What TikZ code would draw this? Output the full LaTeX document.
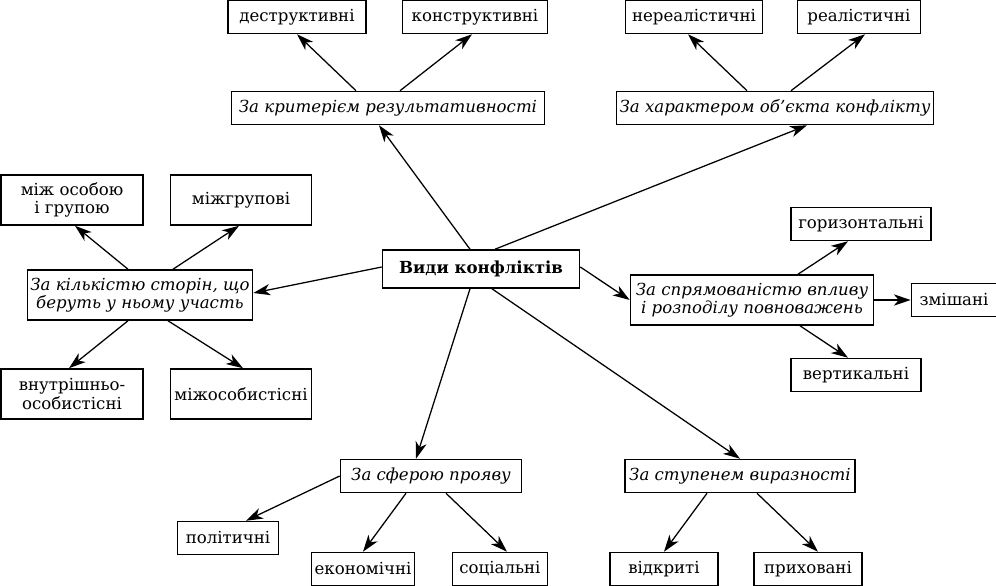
\documentclass[tikz,border=0pt]{standalone}
\usepackage{fontspec}
\setmainfont{DejaVu Serif}
\usetikzlibrary{arrows.meta,calc}
\tikzset{%
  box/.style={draw, line width=1.1pt, inner sep=2pt, minimum height=0.825cm,
    align=center, font=\fontsize{11.8}{13}\selectfont},
  twoline/.style={minimum height=1.25cm},
  criterion/.style={box, font=\fontsize{11.8}{13}\selectfont\itshape},
  link/.style={-{Stealth[length=12pt,width=8pt,inset=3.5pt]}, line width=0.9pt}
}
\begin{document}
\begin{tikzpicture}[x=0.025cm, y=-0.025cm]
      \useasboundingbox (0,0) rectangle (996,586);

      % centre
      \node[box, minimum width=4.925cm, minimum height=0.95cm, font=\fontsize{11.8}{13}\selectfont\bfseries] (main) at (481,269) {Види конфліктів};

      % top left group
      \node[criterion, minimum width=7.825cm] (crit) at (388,108) {За критерієм результативності};
      \node[box, minimum width=3.45cm] (destr) at (297,17) {деструктивні};
      \node[box, minimum width=3.625cm] (constr) at (475,17) {конструктивні};

      % top right group
      \node[criterion, minimum width=7.925cm] (object) at (775,108) {За характером об’єкта конфлікту};
      \node[box, minimum width=3.425cm] (unreal) at (694,17) {нереалістичні};
      \node[box, minimum width=3.075cm] (real) at (859,17) {реалістичні};

      % left group
      \node[criterion, twoline, minimum width=5.625cm] (sides) at (140,295) {За кількістю сторін, що\\беруть у ньому участь};
      \node[box, twoline, minimum width=3.55cm] (persgroup) at (72,200) {між особою\\і групою};
      \node[box, twoline, minimum width=3.525cm] (intergroup) at (241,200) {міжгрупові};
      \node[box, twoline, minimum width=3.55cm] (intra) at (72,394) {внутрішньо-\\особистісні};
      \node[box, twoline, minimum width=3.525cm] (interpers) at (241,394) {міжособистісні};

      % right group
      \node[criterion, twoline, minimum width=6.075cm] (power) at (752,300) {За спрямованістю впливу\\і розподілу повноважень};
      \node[box, minimum width=3.5cm] (horiz) at (861,224) {горизонтальні};
      \node[box, minimum width=2.125cm] (mixed) at (954,300) {змішані};
      \node[box, minimum width=3.25cm] (vert) at (856,375) {вертикальні};

      % bottom left group
      \node[criterion, minimum width=4.525cm] (sphere) at (431,476) {За сферою прояву};
      \node[box, minimum width=2.525cm] (polit) at (228,538) {політичні};
      \node[box, minimum width=2.575cm] (econ) at (363,569) {економічні};
      \node[box, minimum width=2.375cm] (social) at (500,569) {соціальні};

      % bottom right group
      \node[criterion, minimum width=5.75cm] (degree) at (740,476) {За ступенем виразності};
      \node[box, minimum width=2.7cm] (open) at (664,569) {відкриті};
      \node[box, minimum width=2.7cm] (hidden) at (808,569) {приховані};

      % from the centre
      \draw[link] ($(main.north)+(-11,0)$) -- ($(crit.south)+(-9,0)$);
      \draw[link] ($(main.north)+(14,0)$) -- ($(object.south)+(32,0)$);
      \draw[link] ($(main.west)+(0,-2)$) -- ($(sides.east)+(0,-2)$);
      \draw[link] ($(main.east)+(0,-2)$) -- (power.west);
      \draw[link] ($(main.south)+(-11,0)$) -- ($(sphere.north)+(-15,0)$);
      \draw[link] ($(main.south)+(11,0)$) -- (degree.north);

      % branches
      \draw[link] ($(crit.north)+(-32,0)$) -- (destr.south);
      \draw[link] ($(crit.north)+(12,0)$) -- ($(constr.south)+(-3,0)$);
      \draw[link] ($(object.north)+(-28,0)$) -- ($(unreal.south)+(-6,0)$);
      \draw[link] ($(object.north)+(16,0)$) -- ($(real.south)+(6,0)$);

      \draw[link] ($(sides.north)+(-12,0)$) -- ($(persgroup.south)+(3,0)$);
      \draw[link] ($(sides.north)+(33,0)$) -- ($(intergroup.south)+(-2,0)$);
      \draw[link] ($(sides.south)+(-12,0)$) -- ($(intra.north)+(-3,0)$);
      \draw[link] ($(sides.south)+(28,0)$) -- ($(interpers.north)+(2,0)$);

      \draw[link] ($(power.north)+(46,0)$) -- ($(horiz.south)+(-13,0)$);
      \draw[link] (power.east) -- (mixed.west);
      \draw[link] ($(power.south)+(48,0)$) -- ($(vert.north)+(-8,0)$);

      \draw[link] (sphere.west) -- ($(polit.north)+(18,0)$);
      \draw[link] ($(sphere.south)+(-25,0)$) -- (econ.north);
      \draw[link] ($(sphere.south)+(15,0)$) -- ($(social.north)+(7,0)$);

      \draw[link] ($(degree.south)+(-33,0)$) -- (open.north);
      \draw[link] ($(degree.south)+(17,0)$) -- ($(hidden.north)+(10,0)$);
\end{tikzpicture}
\end{document}
